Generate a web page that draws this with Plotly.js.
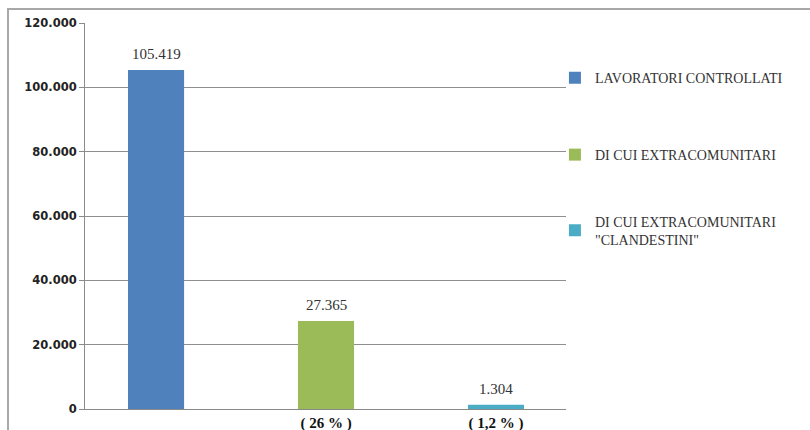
<!DOCTYPE html>
<html>
<head>
<meta charset="utf-8">
<script src="https://cdn.plot.ly/plotly-3.0.1.min.js"></script>
<style>
  html, body { margin: 0; padding: 0; background: #ffffff; overflow: hidden; }
  #chart { width: 810px; height: 430px; }
  #frame { position: absolute; left: 7px; top: 8px; width: 900px; height: 500px;
           border-top: 2px solid #a8a8a8; border-left: 2px solid #a8a8a8;
           pointer-events: none; }
</style>
</head>
<body>
<div id="chart"></div>
<div id="frame"></div>
<script>
// Data
const categories = ["LAVORATORI CONTROLLATI", "DI CUI EXTRACOMUNITARI", "DI CUI EXTRACOMUNITARI CLANDESTINI"];
const seriesNames = ["LAVORATORI CONTROLLATI", "DI CUI EXTRACOMUNITARI", "DI CUI EXTRACOMUNITARI<br>\"CLANDESTINI\""];
const values = [105419, 27365, 1304];
const valueLabels = ["105.419", "27.365", "1.304"];
const categoryTickLabels = ["", "( 26 % )", "( 1,2 % )"];
const yTickValues = [0, 20000, 40000, 60000, 80000, 100000, 120000];

const colors = ["#4f81bd", "#9bbb59", "#4bacc6"];
const legendIds = ["legend", "legend2", "legend3"];
const serif = "Liberation Serif, 'Times New Roman', serif";

const traces = categories.map((c, i) => ({
  type: "bar",
  name: seriesNames[i],
  x: [c],
  y: [values[i]],
  width: 0.33,
  marker: { color: colors[i], line: { width: 0 } },
  legend: legendIds[i],
  hoverinfo: "skip"
}));

const annotations = categories.map((c, i) => ({
  x: c, y: values[i], xref: "x", yref: "y",
  text: valueLabels[i],
  showarrow: false,
  xanchor: "center", yanchor: "bottom",
  yshift: 6,
  font: { family: serif, size: 15, color: "#333333" }
}));

const legendFont = { family: serif, size: 14, color: "#333333" };
const legendBase = { xref: "paper", yref: "paper", xanchor: "left", yanchor: "middle",
  bgcolor: "rgba(0,0,0,0)", borderwidth: 0, font: legendFont, itemwidth: 30 };

const layout = {
  width: 810, height: 430,
  margin: { l: 85, r: 244, t: 23, b: 21 },
  paper_bgcolor: "#ffffff",
  plot_bgcolor: "#ffffff",
  font: { family: serif, color: "#333333" },
  separators: ",.",
  barmode: "overlay",
  showlegend: true,
  annotations: annotations,
  xaxis: {
    type: "category",
    categoryorder: "array",
    categoryarray: categories,
    range: [-0.418, 2.412],
    tickvals: categories,
    ticktext: categoryTickLabels,
    showgrid: false,
    zeroline: false,
    showline: true,
    linecolor: "#8a8a8a",
    linewidth: 1,
    ticks: "",
    tickfont: { family: serif, size: 15, color: "#111111", weight: "bold" },
    automargin: false,
    fixedrange: true
  },
  yaxis: {
    range: [0, 120000],
    tickvals: yTickValues,
    tickformat: ",d",
    showgrid: true,
    gridcolor: "#8f8f8f",
    gridwidth: 1,
    zeroline: false,
    showline: true,
    linecolor: "#8a8a8a",
    linewidth: 1,
    ticks: "outside",
    ticklen: 5,
    tickcolor: "#8a8a8a",
    tickfont: { family: "DejaVu Sans, Verdana, sans-serif", size: 11.5, color: "#222222", weight: "bold" },
    automargin: false,
    fixedrange: true
  },
  legend: Object.assign({}, legendBase, { x: 0.977, y: 0.857 }),
  legend2: Object.assign({}, legendBase, { x: 0.977, y: 0.658 }),
  legend3: Object.assign({}, legendBase, { x: 0.977, y: 0.462 })
};

Plotly.newPlot("chart", traces, layout, { displayModeBar: false, staticPlot: true });
</script>
</body>
</html>
